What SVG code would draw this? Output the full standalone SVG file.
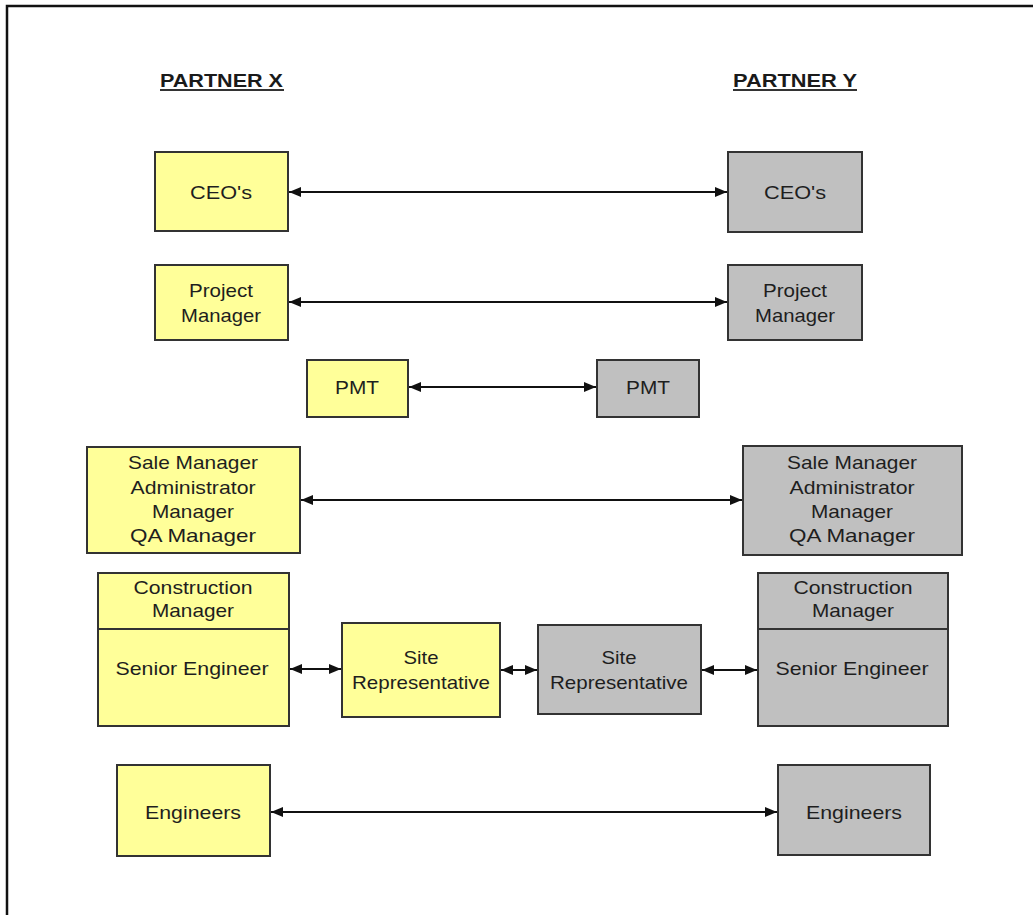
<svg xmlns="http://www.w3.org/2000/svg" width="1033" height="915" viewBox="0 0 1033 915">
<style>
.x{fill:#FFFF99;stroke:#333;stroke-width:2}
.y{fill:#C0C0C0;stroke:#333;stroke-width:2}
.t{font-family:"Liberation Sans",Arial,sans-serif;font-size:19px;fill:#1e1e1e;text-anchor:middle}
.h{font-family:"Liberation Sans",Arial,sans-serif;font-size:18px;font-weight:bold;fill:#1a1a1a;text-anchor:start}
.c{stroke:#111;stroke-width:2;fill:none;marker-start:url(#a);marker-end:url(#a)}
.d{stroke:#333;stroke-width:2}
</style>
<defs>
<marker id="a" viewBox="0 0 12 10" refX="12" refY="5" markerWidth="12" markerHeight="10" markerUnits="userSpaceOnUse" orient="auto-start-reverse">
<path d="M0,0 L12,5 L0,10 Z" fill="#111"/>
</marker>
</defs>
<rect width="1033" height="915" fill="#fff"/>
<path d="M7,915 V6 H1033" fill="none" stroke="#111" stroke-width="2.5"/>
<g id="headers">
<text class="h" x="160" y="87" textLength="123" lengthAdjust="spacingAndGlyphs">PARTNER X</text>
<line x1="160" y1="90" x2="284" y2="90" stroke="#333" stroke-width="2"/>
<text class="h" x="733" y="87" textLength="124" lengthAdjust="spacingAndGlyphs">PARTNER Y</text>
<line x1="733" y1="90" x2="857" y2="90" stroke="#333" stroke-width="2"/>
</g>
<g id="connectors">
<line class="c" x1="289" y1="192" x2="727" y2="192"/>
<line class="c" x1="289" y1="302" x2="727" y2="302"/>
<line class="c" x1="409" y1="387" x2="596" y2="387"/>
<line class="c" x1="301" y1="500" x2="742" y2="500"/>
<line class="c" x1="290" y1="669" x2="341" y2="669"/>
<line class="c" x1="501" y1="670" x2="537" y2="670"/>
<line class="c" x1="702" y1="670" x2="757" y2="670"/>
<line class="c" x1="271" y1="812" x2="777" y2="812"/>
</g>
<g id="x-ceo"><rect class="x" x="155" y="152" width="133" height="79"/><text class="t" x="221" y="199" textLength="62" lengthAdjust="spacingAndGlyphs">CEO's</text></g>
<g id="y-ceo"><rect class="y" x="728" y="152" width="134" height="80"/><text class="t" x="795" y="199" textLength="62" lengthAdjust="spacingAndGlyphs">CEO's</text></g>
<g id="x-pm"><rect class="x" x="155" y="265" width="133" height="75"/><text class="t" x="221" y="297" textLength="64" lengthAdjust="spacingAndGlyphs">Project</text><text class="t" x="221" y="322" textLength="80" lengthAdjust="spacingAndGlyphs">Manager</text></g>
<g id="y-pm"><rect class="y" x="728" y="265" width="134" height="75"/><text class="t" x="795" y="297" textLength="64" lengthAdjust="spacingAndGlyphs">Project</text><text class="t" x="795" y="322" textLength="80" lengthAdjust="spacingAndGlyphs">Manager</text></g>
<g id="x-pmt"><rect class="x" x="307" y="360" width="101" height="57"/><text class="t" x="357" y="394" textLength="44" lengthAdjust="spacingAndGlyphs">PMT</text></g>
<g id="y-pmt"><rect class="y" x="597" y="360" width="102" height="57"/><text class="t" x="648" y="394" textLength="44" lengthAdjust="spacingAndGlyphs">PMT</text></g>
<g id="x-sale"><rect class="x" x="87" y="447" width="213" height="106"/>
<text class="t" x="193" y="469" textLength="130" lengthAdjust="spacingAndGlyphs">Sale Manager</text>
<text class="t" x="193" y="494" textLength="125" lengthAdjust="spacingAndGlyphs">Administrator</text>
<text class="t" x="193" y="518" textLength="82" lengthAdjust="spacingAndGlyphs">Manager</text>
<text class="t" x="193" y="542" textLength="126" lengthAdjust="spacingAndGlyphs">QA Manager</text></g>
<g id="y-sale"><rect class="y" x="743" y="446" width="219" height="109"/>
<text class="t" x="852" y="469" textLength="130" lengthAdjust="spacingAndGlyphs">Sale Manager</text>
<text class="t" x="852" y="494" textLength="125" lengthAdjust="spacingAndGlyphs">Administrator</text>
<text class="t" x="852" y="518" textLength="82" lengthAdjust="spacingAndGlyphs">Manager</text>
<text class="t" x="852" y="542" textLength="126" lengthAdjust="spacingAndGlyphs">QA Manager</text></g>
<g id="x-construction"><rect class="x" x="98" y="573" width="191" height="153"/><line class="d" x1="98" y1="629" x2="289" y2="629"/>
<text class="t" x="193" y="594" textLength="119" lengthAdjust="spacingAndGlyphs">Construction</text>
<text class="t" x="193" y="617" textLength="82" lengthAdjust="spacingAndGlyphs">Manager</text>
<text class="t" x="192" y="675" textLength="153" lengthAdjust="spacingAndGlyphs">Senior Engineer</text></g>
<g id="y-construction"><rect class="y" x="758" y="573" width="190" height="153"/><line class="d" x1="758" y1="629" x2="948" y2="629"/>
<text class="t" x="853" y="594" textLength="119" lengthAdjust="spacingAndGlyphs">Construction</text>
<text class="t" x="853" y="617" textLength="82" lengthAdjust="spacingAndGlyphs">Manager</text>
<text class="t" x="852" y="675" textLength="153" lengthAdjust="spacingAndGlyphs">Senior Engineer</text></g>
<g id="x-site"><rect class="x" x="342" y="623" width="158" height="94"/>
<text class="t" x="421" y="664" textLength="35" lengthAdjust="spacingAndGlyphs">Site</text>
<text class="t" x="421" y="689" textLength="138" lengthAdjust="spacingAndGlyphs">Representative</text></g>
<g id="y-site"><rect class="y" x="538" y="625" width="163" height="89"/>
<text class="t" x="619" y="664" textLength="35" lengthAdjust="spacingAndGlyphs">Site</text>
<text class="t" x="619" y="689" textLength="138" lengthAdjust="spacingAndGlyphs">Representative</text></g>
<g id="x-engineers"><rect class="x" x="117" y="765" width="153" height="91"/><text class="t" x="193" y="819" textLength="96" lengthAdjust="spacingAndGlyphs">Engineers</text></g>
<g id="y-engineers"><rect class="y" x="778" y="765" width="152" height="90"/><text class="t" x="854" y="819" textLength="96" lengthAdjust="spacingAndGlyphs">Engineers</text></g>
</svg>
